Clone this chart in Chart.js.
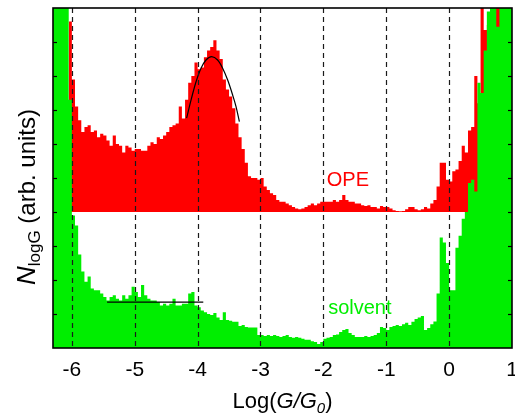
<!DOCTYPE html>
<html><head><meta charset="utf-8">
<script src="https://cdn.jsdelivr.net/npm/chart.js@4.4.1/dist/chart.umd.min.js"></script>
<style>html,body{margin:0;padding:0;background:#fff;} #wrap{width:515px;height:415px;position:relative;}</style>
</head><body><div id="wrap"><canvas id="c"></canvas></div>
<script>
// ---- data ----
const binStart = -6.3;
const binWidth = 0.05;
const opeBaseline = 4;
const opeCounts = [null,null,null,null,null,9.8,9.6,7.9,7.1,6.7,
 6.35,6.5,6.55,6.35,6.4,6.2,6.3,6.25,6.1,5.95,
 6.25,6.0,5.95,5.75,5.95,5.9,5.8,5.85,5.85,5.8,
 5.8,5.95,6.05,6.0,6.2,6.15,6.25,6.35,6.5,6.55,
 6.6,7.1,6.75,7.3,7.8,8.0,8.4,8.2,8.25,8.55,
 8.75,8.85,9.05,8.75,8.5,7.9,7.6,7.4,7.05,6.6,
 6.2,5.85,5.45,5.05,5.0,5.0,4.95,5.0,4.75,4.65,
 4.55,4.5,4.35,4.3,4.3,4.25,4.2,4.15,4.1,4.08,
 4.1,4.15,4.2,4.25,4.2,4.25,4.3,4.3,4.3,4.3,
 4.35,4.3,4.35,4.5,4.35,4.3,4.3,4.25,4.25,4.2,
 4.18,4.2,4.15,4.15,4.1,4.18,4.15,4.15,4.1,4.05,
 4.03,4.02,4.03,4.08,4.15,4.15,4.08,4.05,4.08,4.15,
 4.1,4.25,4.35,4.75,5.45,5.45,4.95,4.9,5.2,5.25,
 5.5,5.95,5.75,6.4,6.5,8.0,7.2,10.5,9.35,9.5,
 9.8,10.5,10.5,10.5,10.5,10.5];
const solventCounts = [10.5,10.5,10.5,10.5,10.5,10.5,7.3,3.9,3.6,2.75,
 2.25,1.95,2.1,1.75,1.7,1.7,1.6,1.5,1.4,1.5,
 1.55,1.45,1.4,1.55,1.45,1.55,1.8,1.65,1.5,1.85,
 1.55,1.45,1.4,1.4,1.35,1.25,1.3,1.25,1.3,1.45,
 1.25,1.25,1.3,1.3,1.6,1.65,1.25,1.2,1.1,1.05,
 1.0,0.97,1.03,0.9,0.82,1.05,0.82,0.8,0.77,0.77,
 0.65,0.68,0.62,0.6,0.6,0.6,0.38,0.38,0.35,0.38,
 0.35,0.38,0.35,0.32,0.35,0.38,0.32,0.3,0.32,0.3,
 0.27,0.24,0.24,0.2,0.18,0.12,0.18,0.27,0.3,0.32,
 0.38,0.4,0.47,0.53,0.56,0.44,0.38,0.32,0.32,0.32,
 0.35,0.32,0.35,0.38,0.44,0.62,0.59,0.53,0.62,0.65,
 0.68,0.65,0.7,0.74,0.68,0.77,0.85,0.9,0.94,0.53,
 0.59,0.7,0.78,1.6,3.25,3.1,2.5,1.7,1.7,2.95,
 3.3,3.8,4.0,4.85,4.95,4.6,7.8,7.5,8.75,9.9,
 10.0,10.5,9.45,10.5,10.5,10.5];
const fitX = [-4.175,-4.105,-4.025,-3.946,-3.866,-3.777,-3.682,-3.602,-3.522,-3.443,-3.389,-3.336];
const fitY = [6.76,7.29,7.83,8.23,8.47,8.57,8.47,8.23,7.88,7.44,7.10,6.66];
const plateauX = [-5.44,-3.91];
const plateauY = [1.35,1.35];
const xTickValues = [-6,-5,-4,-3,-2,-1,0,1];
const xTickLabels = ['-6','-5','-4','-3','-2','-1','0','1'];
const gridValues = [-6,-5,-4,-3,-2,-1,0];
const yTickValues = [1,2,3,4,5,6,7,8,9];
const seriesNames = ['OPE','solvent'];
const seriesLabelX = [-1.61,-1.42];
const seriesLabelY = [4.94,1.15];

// ---- build ----
const FONT = "'Liberation Sans', Arial, Helvetica, sans-serif";
const RED = '#ff0000', GREEN = '#00ee00';
function histPoints(counts){
  const pts = [];
  counts.forEach((v,i)=>{ if(v!==null) pts.push({x: binStart + binWidth*i, y: v}); });
  const last = counts[counts.length-1];
  pts.push({x: binStart + binWidth*counts.length, y: last});
  return pts;
}
const fitPts = fitX.map((x,i)=>({x, y: fitY[i]}));
const platPts = plateauX.map((x,i)=>({x, y: plateauY[i]}));

const decor = {
  id:'decor',
  beforeDraw(chart){
    const {ctx,width,height}=chart; ctx.save(); ctx.fillStyle='#fff'; ctx.fillRect(0,0,width,height); ctx.restore();
  },
  afterDatasetsDraw(chart){
    const {ctx, chartArea:a, scales:{x,y}} = chart;
    ctx.save();
    ctx.strokeStyle='#1a1a1a'; ctx.lineWidth=1.2; ctx.setLineDash([5,4]);
    gridValues.forEach(v=>{ const px=Math.round(x.getPixelForValue(v))+0.5; ctx.beginPath(); ctx.moveTo(px,a.top); ctx.lineTo(px,a.bottom); ctx.stroke(); });
    ctx.setLineDash([]);
    ctx.strokeStyle='#000'; ctx.lineWidth=1.2;
    yTickValues.forEach(v=>{ const py=Math.round(y.getPixelForValue(v))+0.5;
      ctx.beginPath(); ctx.moveTo(a.left,py); ctx.lineTo(a.left+4,py); ctx.stroke();
      ctx.beginPath(); ctx.moveTo(a.right,py); ctx.lineTo(a.right-4,py); ctx.stroke(); });
    ctx.lineWidth=1.6; ctx.strokeStyle='#000';
    ctx.strokeRect(a.left, a.top, a.right-a.left, a.bottom-a.top);
    ctx.font = '20px '+FONT; ctx.textAlign='center'; ctx.textBaseline='middle';
    [RED, GREEN].forEach((c,i)=>{ ctx.fillStyle=c; ctx.fillText(seriesNames[i], x.getPixelForValue(seriesLabelX[i]), y.getPixelForValue(seriesLabelY[i])); });
    ctx.restore();
  },
  afterDraw(chart){
    const {ctx, chartArea:a} = chart;
    ctx.save(); ctx.fillStyle='#000'; ctx.textBaseline='alphabetic';
    const parts = [['Log(', 'normal', 22, 0], ['G/G', 'italic', 22, 0], ['0', 'italic', 15, 5], [')', 'normal', 22, 0]];
    let total = 0;
    parts.forEach(p=>{ ctx.font = p[1]+' '+p[2]+'px '+FONT; total += ctx.measureText(p[0]).width; });
    let cx = (a.left+a.right)/2 - total/2; const by = 408;
    ctx.textAlign='left';
    parts.forEach(p=>{ ctx.font = p[1]+' '+p[2]+'px '+FONT; ctx.fillText(p[0], cx, by+p[3]); cx += ctx.measureText(p[0]).width; });
    const yparts = [['N','italic',26,0], ['logG','normal',17,5], [' (arb. units)','normal',24,0]];
    let ytot = 0;
    yparts.forEach(p=>{ ctx.font = p[1]+' '+p[2]+'px '+FONT; ytot += ctx.measureText(p[0]).width; });
    ctx.translate(35, 197); ctx.rotate(-Math.PI/2);
    let tx = -ytot/2;
    yparts.forEach(p=>{ ctx.font = p[1]+' '+p[2]+'px '+FONT; ctx.fillText(p[0], tx, p[3]); tx += ctx.measureText(p[0]).width; });
    ctx.restore();
  }
};

new Chart(document.getElementById('c'), {
  type:'line',
  data:{ datasets:[
    {label:'fit', data: fitPts, borderColor:'#000', borderWidth:1.2, pointRadius:0, fill:false, cubicInterpolationMode:'monotone', order:0, clip:0},
    {label:'plateau', data: platPts, borderColor:'#000', borderWidth:1.2, pointRadius:0, fill:false, order:0, clip:0},
    {label: seriesNames[1], data: histPoints(solventCounts), stepped:'after', borderColor:GREEN, backgroundColor:GREEN, borderWidth:0, pointRadius:0, fill:'origin', order:1, clip:0},
    {label: seriesNames[0], data: histPoints(opeCounts), stepped:'after', borderColor:RED, backgroundColor:RED, borderWidth:0, pointRadius:0, fill:{value: opeBaseline}, order:2, clip:0}
  ]},
  options:{
    responsive:true, maintainAspectRatio:false, animation:false,
    layout:{padding:{top:8,right:3,left:0,bottom:0}},
    plugins:{legend:{display:false}, tooltip:{enabled:false}},
    scales:{
      x:{type:'linear', min:-6.3, max:1.0,
         grid:{display:false, drawTicks:false}, border:{display:false},
         afterBuildTicks:s=>{ s.ticks = xTickValues.map(v=>({value:v})); },
         ticks:{autoSkip:false, maxRotation:0, minRotation:0, padding:10, color:'#000', font:{family:FONT, size:21},
                callback:(v,i)=>xTickLabels[i]},
         afterFit:s=>{ s.height = 67; s.paddingLeft = 0; s.paddingRight = 0; }},
      y:{type:'linear', min:0, max:10, grid:{display:false, drawTicks:false}, border:{display:false},
         ticks:{display:false}, afterFit:s=>{ s.width = 53; s.paddingTop = 0; s.paddingBottom = 0; }}
    }
  },
  plugins:[decor]
});
</script></body></html>
